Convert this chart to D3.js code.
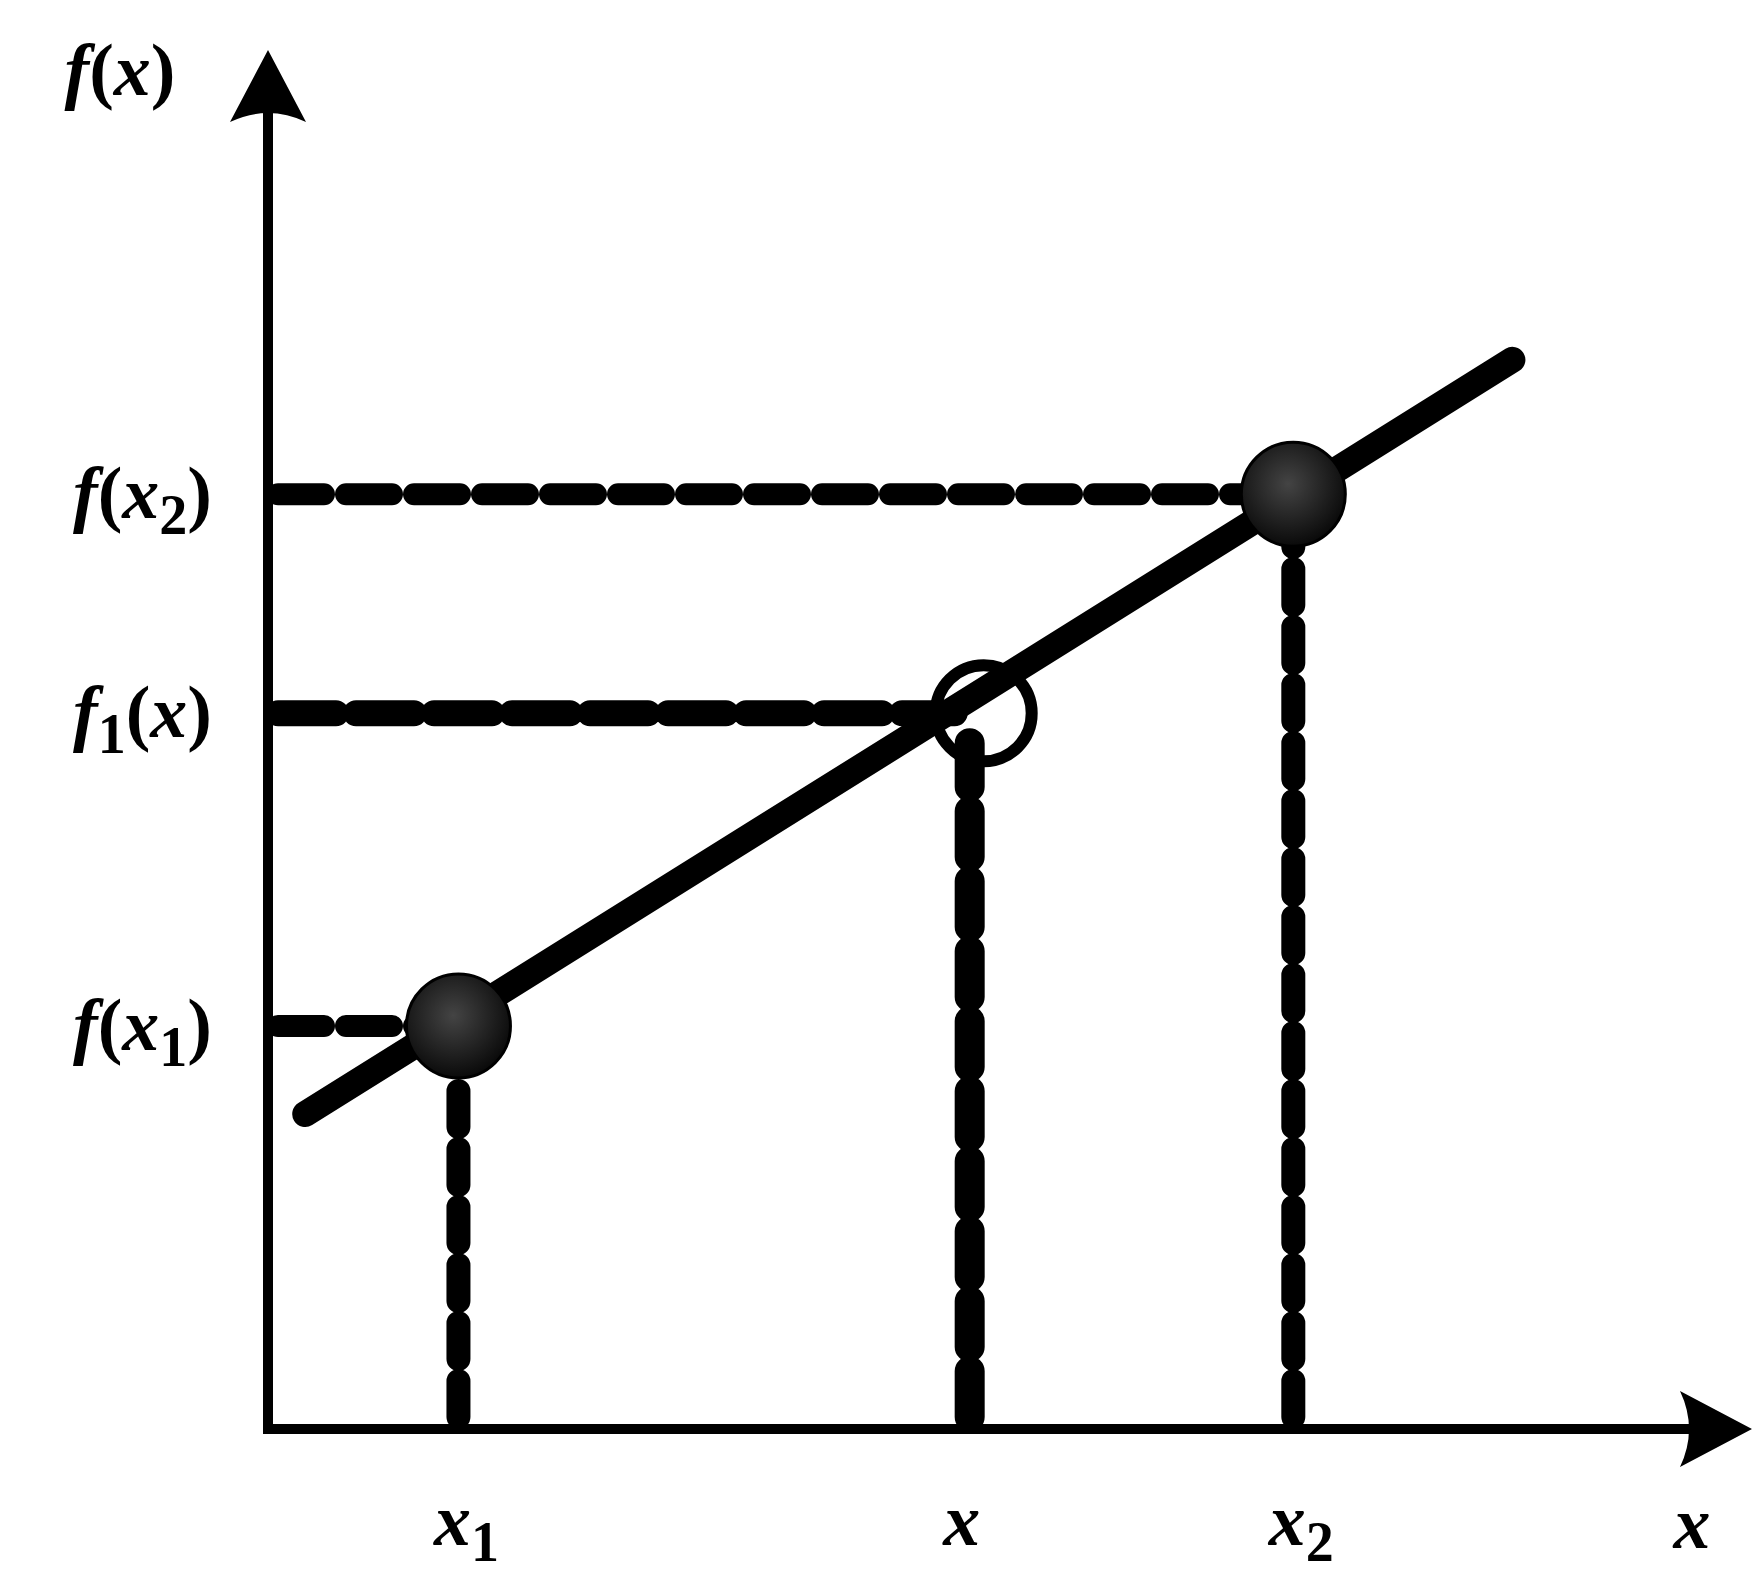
<!DOCTYPE html>
<html><head><meta charset="utf-8">
<script src="https://cdn.jsdelivr.net/npm/d3@7"></script>
<style>body{margin:0;background:#fff}</style></head>
<body><svg></svg>
<script>
let width = 1762, height = 1577
let svg = d3.select('svg').attr('width', width).attr('height', height)

// positions along the axes (arbitrary 0-100 units)
let xNames = ['x1', 'x', 'x2']
let xValues = [13.3, 49, 71.6]
let yValues = [35.7, 63.4, 82.8]
let lineX = [2.6, 86.9]
let lineY = [27.9, 94.7]

let xScale = d3.scaleLinear().domain([0, 100]).range([268, 1700])
let yScale = d3.scaleLinear().domain([0, 100]).range([1429, 300])

let defs = svg.append('defs')
let g = defs.append('radialGradient').attr('id', 'ball').attr('cx', '45%').attr('cy', '40%').attr('r', '60%')
g.append('stop').attr('offset', '0%').attr('stop-color', '#444')
g.append('stop').attr('offset', '100%').attr('stop-color', '#0a0a0a')

let ax = xScale(0), ay = yScale(0)
let font = '"Liberation Serif", "Times New Roman", serif'

// dashed guides
let hdash = [[22, 68, 46], [26, 78, 58], [22, 68, 46]]
yValues.forEach((v, i) => {
    let endX = i == 0 ? xValues[0] : xValues[i]
    svg.append('line')
        .attr('x1', ax + 10).attr('x2', xScale(endX) - (i == 1 ? 15 : 30))
        .attr('y1', yScale(v)).attr('y2', yScale(v))
        .attr('stroke', '#000').attr('stroke-width', hdash[i][0])
        .attr('stroke-linecap', 'round')
        .attr('stroke-dasharray', hdash[i][2] + ' ' + (hdash[i][1] - hdash[i][2]))
})
let vdash = [[24, 58, 36], [30, 70, 46], [24, 58, 36]]
xValues.forEach((v, i) => {
    svg.append('line')
        .attr('x1', xScale(v)).attr('x2', xScale(v))
        .attr('y1', ay - 12).attr('y2', yScale(yValues[i]) + (i == 1 ? 30 : 50))
        .attr('stroke', '#000').attr('stroke-width', vdash[i][0])
        .attr('stroke-linecap', 'round')
        .attr('stroke-dasharray', vdash[i][2] + ' ' + (vdash[i][1] - vdash[i][2]))
})

// the straight line
svg.append('line')
    .attr('x1', xScale(lineX[0])).attr('y1', yScale(lineY[0]))
    .attr('x2', xScale(lineX[1])).attr('y2', yScale(lineY[1]))
    .attr('stroke', '#000').attr('stroke-width', 26).attr('stroke-linecap', 'round')

// axes
svg.append('line').attr('x1', ax).attr('x2', 1700).attr('y1', ay).attr('y2', ay)
    .attr('stroke', '#000').attr('stroke-width', 10)
svg.append('line').attr('x1', ax).attr('x2', ax).attr('y1', ay + 5).attr('y2', 110)
    .attr('stroke', '#000').attr('stroke-width', 10)
svg.append('path').attr('d', `M${ax},50 L${ax - 38},122 Q${ax},104 ${ax + 38},122 Z`).attr('fill', '#000')
svg.append('path').attr('d', `M1752,${ay} L1680,${ay - 38} Q1698,${ay} 1680,${ay + 38} Z`).attr('fill', '#000')

// points
svg.selectAll('circle.ball')
    .data([0, 2]).enter().append('circle').attr('class', 'ball')
    .attr('cx', i => xScale(xValues[i])).attr('cy', i => yScale(yValues[i]))
    .attr('r', 52).attr('fill', 'url(#ball)').attr('stroke', '#000').attr('stroke-width', 3)
svg.append('circle').attr('cx', xScale(xValues[1]) + 14).attr('cy', yScale(yValues[1]))
    .attr('r', 48).attr('fill', 'none').attr('stroke', '#000').attr('stroke-width', 12)

// labels
function label(parent, x, y, anchor, parts) {
    let t = parent.append('text').attr('x', x).attr('y', y).attr('text-anchor', anchor)
        .attr('font-family', font).attr('font-weight', 'bold').attr('font-size', 74)
    parts.forEach(p => {
        let s = t.append('tspan').text(p[0]).attr('font-style', p[1] ? 'italic' : 'normal')
        if (p[2]) s.attr('font-size', 56).attr('dy', 16)
        if (p[3]) s.attr('dy', -16)
    })
}
label(svg, 120, 95, 'middle', [['f', 1], ['(', 0], ['x', 1], [')', 0]])
let yLabels = [
    [['f', 1], ['(', 0], ['x', 1], ['1', 0, 1], [')', 0, 0, 1]],
    [['f', 1], ['1', 0, 1], ['(', 0, 0, 1], ['x', 1], [')', 0]],
    [['f', 1], ['(', 0], ['x', 1], ['2', 0, 1], [')', 0, 0, 1]]
]
yValues.forEach((v, i) => label(svg, 212, yScale(v) + 24, 'end', yLabels[i]))
let xLabels = [[['x', 1], ['1', 0, 1]], [['x', 1]], [['x', 1], ['2', 0, 1]]]
xValues.forEach((v, i) => label(svg, xScale(v) + (i == 1 ? -8 : 8), 1545, 'middle', xLabels[i]))
label(svg, 1692, 1548, 'middle', [['x', 1]])
</script></body></html>
